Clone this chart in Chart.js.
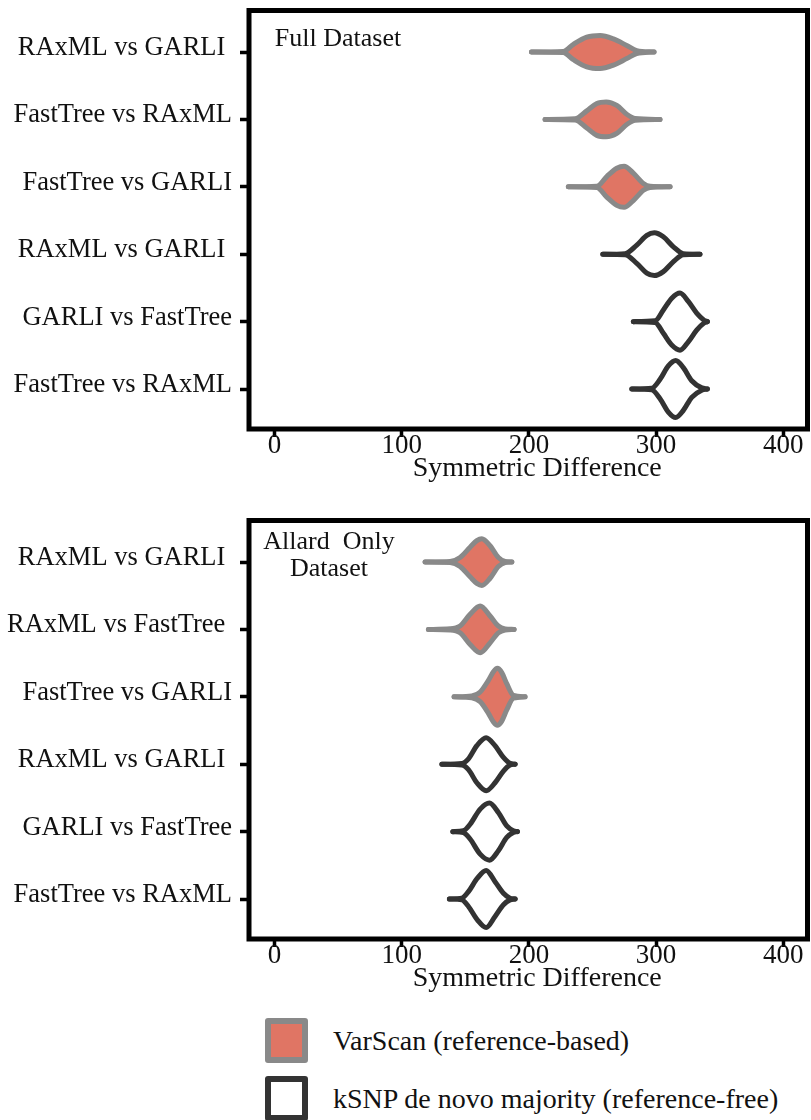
<!DOCTYPE html>
<html>
<head>
<meta charset="utf-8">
<script src="https://cdn.jsdelivr.net/npm/chart.js@4.4.1/dist/chart.umd.min.js"></script>
<style>
  html, body { margin: 0; padding: 0; background: #fff; }
  body { width: 811px; height: 1120px; position: relative; overflow: hidden; font-family: "Liberation Serif", serif; }
  .panel { position: absolute; left: 0; width: 811px; height: 500px; }
  .legend-row { position: absolute; left: 265px; display: flex; align-items: center; height: 45px; font-size: 28px; color: #111; }
  .swatch { width: 43px; height: 45px; box-sizing: border-box; border-radius: 3px; margin-right: 25px; }
</style>
</head>
<body>
<div class="panel" style="top:0"><canvas id="full" width="811" height="500"></canvas></div>
<div class="panel" style="top:510px"><canvas id="allard" width="811" height="500"></canvas></div>
<div class="legend-row" style="top:1018px"><div class="swatch" style="background:#E07564;border:6px solid #898989"></div>VarScan (reference-based)</div>
<div class="legend-row" style="top:1076px"><div class="swatch" style="background:#fff;border:6px solid #333"></div>kSNP de novo majority (reference-free)</div>
<script>
// x axis ticks
const xTickValues = [0, 100, 200, 300, 400];
const xTitle = "Symmetric Difference";

// Full dataset panel (top)
const fullLabels = ["RAxML vs GARLI ", "FastTree vs RAxML", "FastTree vs GARLI", "RAxML vs GARLI ", "GARLI vs FastTree", "FastTree vs RAxML"];
const fullMethod = ["varscan", "varscan", "varscan", "ksnp", "ksnp", "ksnp"];
// symmetric difference values along each violin outline
const fullX = [
  [202, 227, 235, 245.5, 256, 266.4, 276.9, 284.8, 298.4],
  [212.7, 236.3, 245.5, 253.4, 260.7, 269.1, 276.9, 283.5, 303.1],
  [231, 253.4, 261.2, 269.1, 274.8, 282.1, 290, 295.3, 311],
  [258.1, 275.6, 284.8, 292.7, 298.6, 305.7, 313.6, 321.4, 334.5],
  [282.1, 299.2, 305.7, 312.3, 318.8, 325.3, 331.9, 337.7, 340.3],
  [280.9, 296.6, 303.1, 309.6, 315.4, 321.4, 328, 335.9, 340.3]
];
// relative density at those values
const fullDensity = [
  [0, 0.02, 0.27, 0.52, 0.58, 0.46, 0.23, 0.05, 0],
  [0, 0.02, 0.30, 0.56, 0.61, 0.49, 0.18, 0.03, 0],
  [0, 0.02, 0.36, 0.65, 0.72, 0.48, 0.12, 0.02, 0],
  [0, 0.02, 0.32, 0.66, 0.75, 0.61, 0.26, 0.02, 0],
  [0, 0.03, 0.41, 0.82, 1.00, 0.71, 0.30, 0.05, 0],
  [0, 0.03, 0.34, 0.81, 1.00, 0.75, 0.29, 0.04, 0]
];

// Allard only panel (bottom)
const allardLabels = ["RAxML vs GARLI ", "RAxML vs FastTree ", "FastTree vs GARLI", "RAxML vs GARLI ", "GARLI vs FastTree", "FastTree vs RAxML"];
const allardMethod = ["varscan", "varscan", "varscan", "ksnp", "ksnp", "ksnp"];
const allardX = [
  [118.4, 138.1, 145.9, 153.8, 159.1, 163, 169.5, 176, 181.3, 186.6],
  [121, 138.1, 145.9, 153.8, 161.7, 169.5, 176, 181.3, 188.4],
  [141.2, 155.1, 161.7, 168.2, 172.1, 175.2, 178.7, 182.6, 187.8, 197],
  [131.6, 147.3, 152.5, 159.1, 166.4, 173.4, 180, 185.2, 189.2],
  [140.2, 148.5, 153.8, 161.7, 169, 176, 182.6, 187.8, 191],
  [137.5, 147.3, 152.5, 159.5, 166.4, 173.4, 180, 185.2, 189.2]
];
const allardDensity = [
  [0, 0.02, 0.16, 0.52, 0.75, 0.82, 0.57, 0.16, 0.02, 0],
  [0, 0.02, 0.12, 0.53, 0.82, 0.47, 0.12, 0.02, 0],
  [0, 0.03, 0.17, 0.58, 0.88, 1.00, 0.85, 0.46, 0.05, 0],
  [0, 0.03, 0.19, 0.65, 0.93, 0.65, 0.24, 0.03, 0],
  [0, 0.03, 0.26, 0.79, 1.00, 0.67, 0.20, 0.03, 0],
  [0, 0.03, 0.26, 0.73, 1.00, 0.61, 0.20, 0.03, 0]
];

const salmon = "#E07564";
const grey = "#898989";
const dark = "#333333";
const maxHalf = 0.423; // half width of the widest violin, in category units
const serif = "Liberation Serif";

// black box around the plot area, panel caption and axis title
const framePlugin = {
  id: "frame",
  afterDraw(chart, args, opts) {
    const { ctx, chartArea: a } = chart;
    ctx.save();
    ctx.lineWidth = 5;
    ctx.strokeStyle = "#000";
    ctx.strokeRect(a.left, a.top, a.right - a.left, a.bottom - a.top);
    ctx.fillStyle = "#111";
    ctx.font = "26px '" + serif + "'";
    ctx.textAlign = "center";
    ctx.textBaseline = "alphabetic";
    opts.lines.forEach((line, i) => ctx.fillText(line, opts.x, opts.y + i * 27));
    // axis title, sits a little right of the plot centre in the original
    ctx.font = "28px '" + serif + "'";
    ctx.textBaseline = "middle";
    ctx.fillText(xTitle, (a.left + a.right) / 2 + 9, a.bottom + 40);
    ctx.restore();
  }
};

function violinDatasets(methods, xs, dens) {
  const sets = [];
  methods.forEach((m, i) => {
    const pos = i + 1;
    const stroke = m === "varscan" ? grey : dark;
    const common = {
      borderColor: stroke,
      borderWidth: 5,
      pointRadius: 0,
      cubicInterpolationMode: "monotone",
      borderCapStyle: "round",
      borderJoinStyle: "round"
    };
    sets.push({
      ...common,
      data: xs[i].map((x, j) => ({ x: x, y: pos - dens[i][j] * maxHalf })),
      fill: m === "varscan" ? "+1" : false,
      backgroundColor: m === "varscan" ? salmon : "rgba(0,0,0,0)"
    });
    sets.push({
      ...common,
      data: xs[i].map((x, j) => ({ x: x, y: pos + dens[i][j] * maxHalf })),
      fill: false
    });
  });
  return sets;
}

function makeChart(id, labels, methods, xs, dens, caption) {
  return new Chart(document.getElementById(id), {
    type: "line",
    data: { datasets: violinDatasets(methods, xs, dens) },
    options: {
      responsive: false,
      animation: false,
      events: [],
      layout: { padding: { top: 10.5, right: 3.5, left: 0, bottom: 0 } },
      plugins: {
        legend: { display: false },
        tooltip: { enabled: false },
        filler: { drawTime: "beforeDatasetsDraw" },
        frame: caption
      },
      scales: {
        x: {
          type: "linear",
          min: -20,
          max: 419,
          afterBuildTicks: (scale) => { scale.ticks = xTickValues.map(v => ({ value: v })); },
          afterFit: (scale) => { scale.height = 71; scale.paddingLeft = 0; scale.paddingRight = 0; },
          grid: { display: true, drawOnChartArea: false, drawTicks: true, tickLength: 8, tickColor: "#000", tickWidth: 3.5 },
          border: { display: false },
          ticks: { color: "#111", padding: -5, font: { family: serif, size: 27, lineHeight: 1 } },
          title: { display: false }
        },
        y: {
          type: "linear",
          reverse: true,
          min: 0.384,
          max: 6.593,
          afterBuildTicks: (scale) => { scale.ticks = labels.map((l, i) => ({ value: i + 1 })); },
          afterFit: (scale) => { scale.width = 249; scale.paddingTop = 0; scale.paddingBottom = 0; },
          grid: { display: true, drawOnChartArea: false, drawTicks: true, tickLength: 9, tickColor: "#000", tickWidth: 3.5 },
          border: { display: false },
          ticks: { color: "#111", padding: 8, labelOffset: -4, font: { family: serif, size: 26.5 }, callback: (v) => labels[v - 1] }
        }
      }
    },
    plugins: [framePlugin]
  });
}

makeChart("full", fullLabels, fullMethod, fullX, fullDensity, { lines: ["Full Dataset"], x: 338, y: 46 });
makeChart("allard", allardLabels, allardMethod, allardX, allardDensity, { lines: ["Allard  Only", "Dataset"], x: 329, y: 38.5 });
</script>
</body>
</html>
